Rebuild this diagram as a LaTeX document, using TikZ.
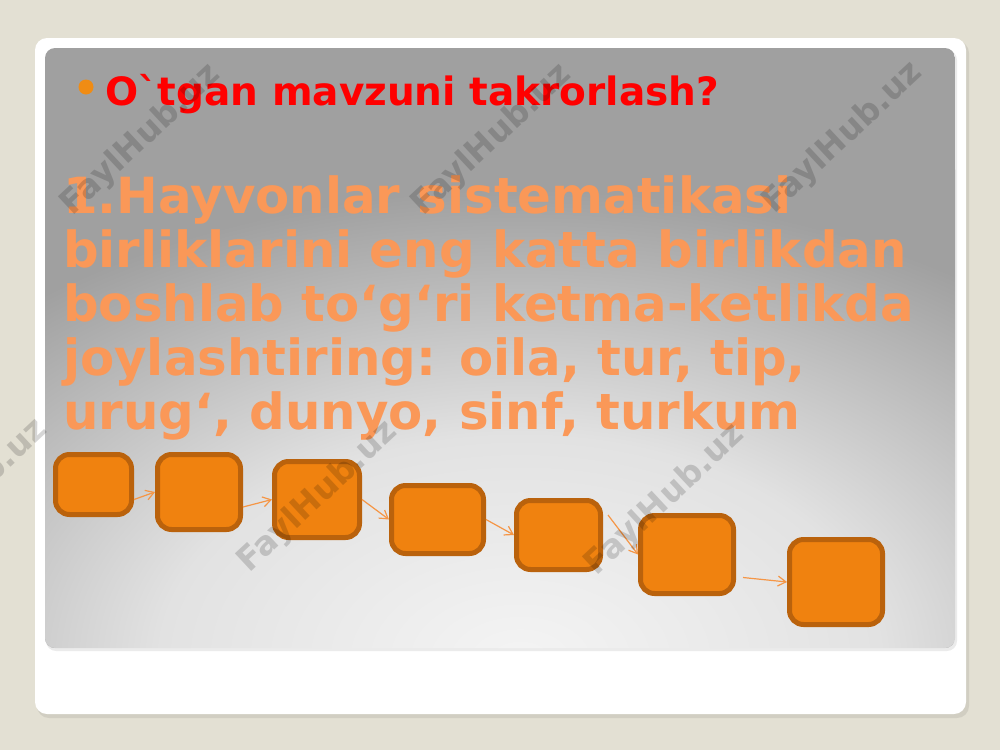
\documentclass[tikz,border=0pt]{standalone}
\usepackage{fontspec}
\newfontfamily\slidefont{DejaVu Sans}
\usetikzlibrary{calc,arrows.meta}
\definecolor{slidebg}{RGB}{227,224,211}
\definecolor{glowin}{RGB}{244,244,244}
\definecolor{glowmid}{RGB}{226,226,226}
\definecolor{glowout}{RGB}{160,160,160}
\definecolor{boxfill}{RGB}{240,130,15}
\definecolor{boxedge}{RGB}{186,98,12}
\definecolor{arrowc}{RGB}{245,150,70}
\definecolor{bodytext}{RGB}{250,152,88}
\definecolor{bulletc}{RGB}{240,140,20}
\pgfdeclareradialshading{panelglow}{\pgfpoint{0bp}{0bp}}{color(0bp)=(glowin); color(10bp)=(glowmid); color(21bp)=(glowout); color(50bp)=(glowout)}
\begin{document}
\begin{tikzpicture}[x=1pt,y=-1pt,
    boxstyle/.style={rectangle,rounded corners=14pt,draw=boxedge,line width=5pt,fill=boxfill,inner sep=0pt},
    bodyline/.style={anchor=base west,inner sep=0pt,text=bodytext,font=\slidefont\bfseries\fontsize{49.8}{54}\selectfont},
    wmark/.style={font=\slidefont\bfseries\fontsize{33}{33}\selectfont,text=black,opacity=0.16,rotate=43}]
\useasboundingbox (0,0) rectangle (1000,750);
\fill[slidebg] (0,0) rectangle (1000,750);
% card and panel
\fill[black,opacity=0.08,rounded corners=12pt] (37,41) rectangle (969,718);
\fill[white,rounded corners=12pt] (35,38) rectangle (966,714);
\fill[black,opacity=0.08,rounded corners=10pt] (46,50) rectangle (957,651);
\begin{scope}
    \clip[rounded corners=10pt] (45,48) rectangle (955,648);
    \fill[glowout] (45,48) rectangle (955,648);
    \shade[shading=panelglow] (520,660) ellipse [x radius=900,y radius=560];
\end{scope}
% title
\node [circle,fill=bulletc,inner sep=0pt,minimum size=15pt] (dot) at (86,87) {};
\node [anchor=base west,inner sep=0pt,text=red,font=\slidefont\bfseries\fontsize{39}{39}\selectfont] (title) at (105,105) {O`tgan mavzuni takrorlash?};
% question
\foreach \txt [count=\i] in {{1.Hayvonlar sistematikasi},{birliklarini eng katta birlikdan},{boshlab to‘g‘ri ketma-ketlikda},{joylashtiring: oila, tur, tip,},{urug‘, dunyo, sinf, turkum}}
    \node [bodyline] (line\i) at (63,{159+54*\i}) {\txt};
% empty boxes
\node [boxstyle,minimum width=76pt,minimum height=60pt] (1) at (93.5,484.5) {};
\node [boxstyle,minimum width=83pt,minimum height=75pt] (2) at (199,492) {};
\node [boxstyle,minimum width=85pt,minimum height=76pt] (3) at (317,499.5) {};
\node [boxstyle,minimum width=92pt,minimum height=68pt] (4) at (437.5,519.5) {};
\node [boxstyle,minimum width=84pt,minimum height=69pt] (5) at (558.5,535) {};
\node [boxstyle,minimum width=93pt,minimum height=78pt] (6) at (687,554.5) {};
\node [boxstyle,minimum width=93pt,minimum height=85pt] (7) at (836,582) {};
\begin{scope}[-{Straight Barb[length=8pt,width=10pt]},line width=1.2pt,draw=arrowc]
    \path ($(1.east)+(0,15)$) edge (2.west);
    \path ($(2.east)+(0,15)$) edge (3.west);
    \path (3.east) edge (4.west);
    \path (4.east) edge (5.west);
    \path ($(5.east)+(5,-20)$) edge (6.west);
    \path ($(6.east)+(7,23)$) edge (7.west);
\end{scope}
% watermark
\foreach \wx/\wy [count=\j] in {141/140,492/140,843/138,-32/495,318/497,665/500}
    \node [wmark] (wm\j) at (\wx,\wy) {FaylHub.uz};
\end{tikzpicture}
\end{document}
